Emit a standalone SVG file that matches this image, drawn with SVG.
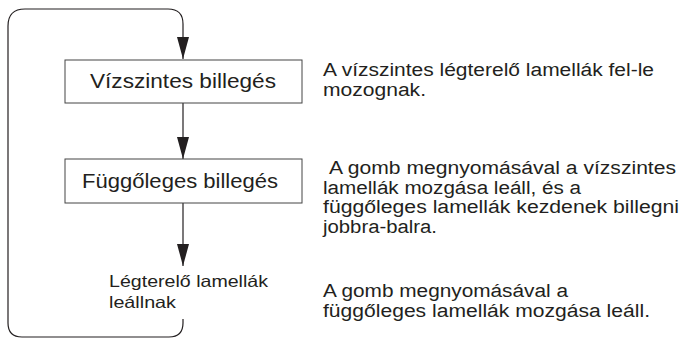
<svg xmlns="http://www.w3.org/2000/svg" width="690" height="340" viewBox="0 0 690 340">
<style>
.t{font-family:"Liberation Sans",Arial,sans-serif;fill:#231f20}
.box{fill:#ffffff;stroke:#444;stroke-width:1}
.con{fill:none;stroke:#231f20;stroke-width:1.2}
</style>
<defs>
<marker id="ah" markerUnits="userSpaceOnUse" markerWidth="22" markerHeight="12" refX="22" refY="6" orient="auto" viewBox="0 0 22 12">
<path d="M0,0 L22,6 L0,12 Z" fill="#231f20"/>
</marker>
</defs>
<rect width="690" height="340" fill="#ffffff"/>
<g id="connectors">
<path class="con" d="M183,319 L183,323 Q183,337 169,337 L22,337 Q8,337 8,323 L8,26 Q8,9 25,9 L168,9 Q183,9 183,24 L183,59" marker-end="url(#ah)"/>
<path class="con" d="M183,103 L183,159" marker-end="url(#ah)"/>
<path class="con" d="M183,203 L183,266" marker-end="url(#ah)"/>
</g>
<g id="node-vizszintes">
<rect class="box" x="65" y="60" width="237" height="43"/>
<text class="t" x="90" y="88" font-size="19.5" textLength="186" lengthAdjust="spacingAndGlyphs">Vízszintes billegés</text>
</g>
<g id="node-fuggoleges">
<rect class="box" x="65" y="159" width="237" height="44"/>
<text class="t" x="82" y="187.5" font-size="19.5" textLength="196" lengthAdjust="spacingAndGlyphs">Függőleges billegés</text>
</g>
<g id="node-leallnak">
<text class="t" x="109" y="287" font-size="16.5" textLength="159" lengthAdjust="spacingAndGlyphs">Légterelő lamellák</text>
<text class="t" x="109" y="308" font-size="16.5" textLength="67" lengthAdjust="spacingAndGlyphs">leállnak</text>
</g>
<g id="desc-1">
<text class="t" x="323" y="75.5" font-size="18" textLength="331" lengthAdjust="spacingAndGlyphs">A vízszintes légterelő lamellák fel-le</text>
<text class="t" x="323" y="95.5" font-size="18" textLength="103" lengthAdjust="spacingAndGlyphs">mozognak.</text>
</g>
<g id="desc-2">
<text class="t" x="329" y="174" font-size="18" textLength="347" lengthAdjust="spacingAndGlyphs">A gomb megnyomásával a vízszintes</text>
<text class="t" x="323" y="193.5" font-size="18" textLength="258" lengthAdjust="spacingAndGlyphs">lamellák mozgása leáll, és a</text>
<text class="t" x="323" y="213" font-size="18" textLength="356" lengthAdjust="spacingAndGlyphs">függőleges lamellák kezdenek billegni</text>
<text class="t" x="323" y="232.5" font-size="18" textLength="114" lengthAdjust="spacingAndGlyphs">jobbra-balra.</text>
</g>
<g id="desc-3">
<text class="t" x="323" y="296.5" font-size="18" textLength="245" lengthAdjust="spacingAndGlyphs">A gomb megnyomásával a</text>
<text class="t" x="323" y="316.5" font-size="18" textLength="327" lengthAdjust="spacingAndGlyphs">függőleges lamellák mozgása leáll.</text>
</g>
</svg>
